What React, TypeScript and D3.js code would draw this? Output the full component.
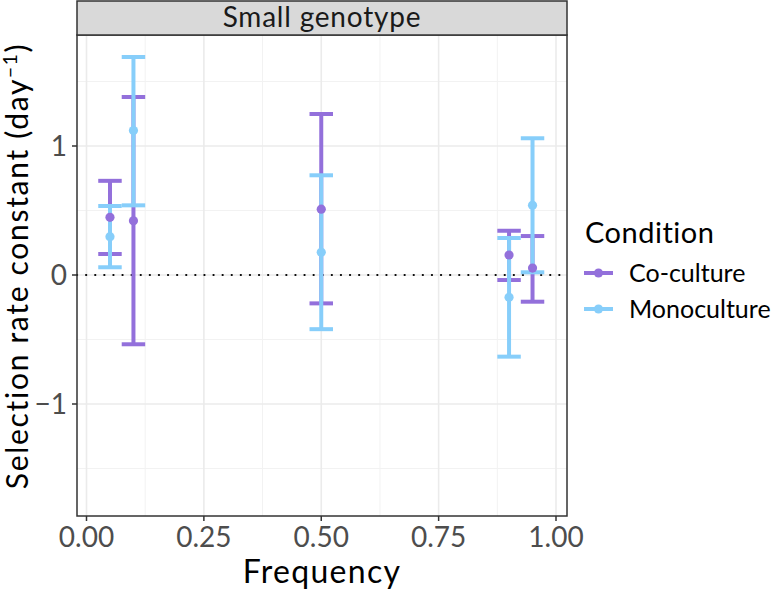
import React from "react";
import * as d3 from "d3";

// Selection rate constants per frequency
const frequency = [0.05, 0.1, 0.5, 0.9, 0.95];
const coMean = [0.447, 0.42, 0.51, 0.155, 0.054];
const coLower = [0.163, -0.537, -0.22, -0.039, -0.207];
const coUpper = [0.73, 1.38, 1.248, 0.343, 0.302];
const monoMean = [0.297, 1.12, 0.176, -0.173, 0.54];
const monoLower = [0.06, 0.54, -0.42, -0.633, 0.021];
const monoUpper = [0.535, 1.69, 0.773, 0.287, 1.06];

const conditions = ["Co-culture", "Monoculture"];
const colors = ["#9370DB", "#87CEFA"];

const xTicks = [0, 0.25, 0.5, 0.75, 1];
const xMinor = [0.125, 0.375, 0.625, 0.875];
const yTicks = [-1, 0, 1];
const yMinor = [-1.5, -0.5, 0.5, 1.5];

const W = 773;
const H = 593;
const font = "Lato, 'Noto Sans', sans-serif";

const panel = { left: 77, right: 567, top: 35, bottom: 516 };
const stripTop = 1;

export default function App() {
  const x = d3.scaleLinear().domain([0, 1]).range([86.5, 556]);
  const y = d3.scaleLinear().domain([0, 1]).range([275, 146]);
  const capHalf = 0.025;

  const series = [
    { name: conditions[0], color: colors[0], mean: coMean, lo: coLower, hi: coUpper },
    { name: conditions[1], color: colors[1], mean: monoMean, lo: monoLower, hi: monoUpper },
  ];

  const line = d3.line<[number, number]>();

  return (
    <svg
      width={W}
      height={H}
      style={{ position: "absolute", left: 0, top: 0, background: "#fff" }}
      fontFamily={font}
    >
      <rect x={0} y={0} width={W} height={H} fill="#fff" />

      {/* grid */}
      {yMinor.map((v) => (
        <line key={"ym" + v} x1={panel.left} x2={panel.right} y1={y(v)} y2={y(v)} stroke="#F2F2F2" strokeWidth={1} />
      ))}
      {xMinor.map((v) => (
        <line key={"xm" + v} x1={x(v)} x2={x(v)} y1={panel.top} y2={panel.bottom} stroke="#F2F2F2" strokeWidth={1} />
      ))}
      {yTicks.map((v) => (
        <line key={"yg" + v} x1={panel.left} x2={panel.right} y1={y(v)} y2={y(v)} stroke="#EBEBEB" strokeWidth={1.6} />
      ))}
      {xTicks.map((v) => (
        <line key={"xg" + v} x1={x(v)} x2={x(v)} y1={panel.top} y2={panel.bottom} stroke="#EBEBEB" strokeWidth={1.6} />
      ))}

      {/* zero reference */}
      <line
        x1={panel.left}
        x2={panel.right}
        y1={y(0)}
        y2={y(0)}
        stroke="#000"
        strokeWidth={2.2}
        strokeDasharray="0.1 9"
        strokeLinecap="round"
      />

      {/* error bars */}
      {series.map((s) =>
        frequency.map((f, i) => (
          <g key={s.name + "e" + i} stroke={s.color} strokeWidth={4} fill="none">
            <path d={line([[x(f), y(s.lo[i])], [x(f), y(s.hi[i])]]) || ""} />
            <path d={line([[x(f - capHalf), y(s.hi[i])], [x(f + capHalf), y(s.hi[i])]]) || ""} />
            <path d={line([[x(f - capHalf), y(s.lo[i])], [x(f + capHalf), y(s.lo[i])]]) || ""} />
          </g>
        ))
      )}

      {/* points */}
      {series.map((s) =>
        frequency.map((f, i) => (
          <circle key={s.name + "p" + i} cx={x(f)} cy={y(s.mean[i])} r={4.6} fill={s.color} />
        ))
      )}

      {/* panel border */}
      <rect
        x={panel.left}
        y={panel.top}
        width={panel.right - panel.left}
        height={panel.bottom - panel.top}
        fill="none"
        stroke="#333"
        strokeWidth={1.5}
      />

      {/* strip */}
      <rect
        x={panel.left}
        y={stripTop}
        width={panel.right - panel.left}
        height={panel.top - stripTop}
        fill="#D9D9D9"
        stroke="#333"
        strokeWidth={1.5}
      />
      <text
        x={(panel.left + panel.right) / 2}
        y={27}
        textAnchor="middle"
        fontSize={28}
        letterSpacing={0.8}
        fill="#1A1A1A"
      >
        Small genotype
      </text>

      {/* x axis */}
      {xTicks.map((v) => (
        <g key={"xt" + v}>
          <line x1={x(v)} x2={x(v)} y1={panel.bottom} y2={panel.bottom + 5} stroke="#333" strokeWidth={1.5} />
          <text x={x(v)} y={547} textAnchor="middle" fontSize={28} fill="#4D4D4D">
            {d3.format(".2f")(v)}
          </text>
        </g>
      ))}
      <text
        x={(panel.left + panel.right) / 2}
        y={583}
        textAnchor="middle"
        fontSize={32}
        letterSpacing={1.3}
        fill="#000"
      >
        Frequency
      </text>

      {/* y axis */}
      {yTicks.map((v) => (
        <g key={"yt" + v}>
          <line x1={panel.left - 5} x2={panel.left} y1={y(v)} y2={y(v)} stroke="#333" strokeWidth={1.5} />
          <text x={67} y={y(v) + 10} textAnchor="end" fontSize={28} fill="#4D4D4D">
            {v < 0 ? "\u2212" + Math.abs(v) : String(v)}
          </text>
        </g>
      ))}
      <text
        transform="translate(28, 266) rotate(-90)"
        textAnchor="middle"
        fontSize={30}
        letterSpacing={1.7}
        fill="#000"
      >
        Selection rate constant (day
        <tspan dy={-11} fontSize={19}>
          −1
        </tspan>
        <tspan dy={11}>)</tspan>
      </text>

      {/* legend */}
      <text x={585} y={243} fontSize={29} letterSpacing={0.5} fill="#000">
        Condition
      </text>
      {series.map((s, i) => (
        <g key={"lg" + s.name} transform={`translate(0, ${273 + i * 36})`}>
          <line x1={584} x2={613} y1={0} y2={0} stroke={s.color} strokeWidth={4} />
          <circle cx={598.5} cy={0} r={4.6} fill={s.color} />
          <text x={629} y={9} fontSize={25} fill="#000">
            {s.name}
          </text>
        </g>
      ))}
    </svg>
  );
}
